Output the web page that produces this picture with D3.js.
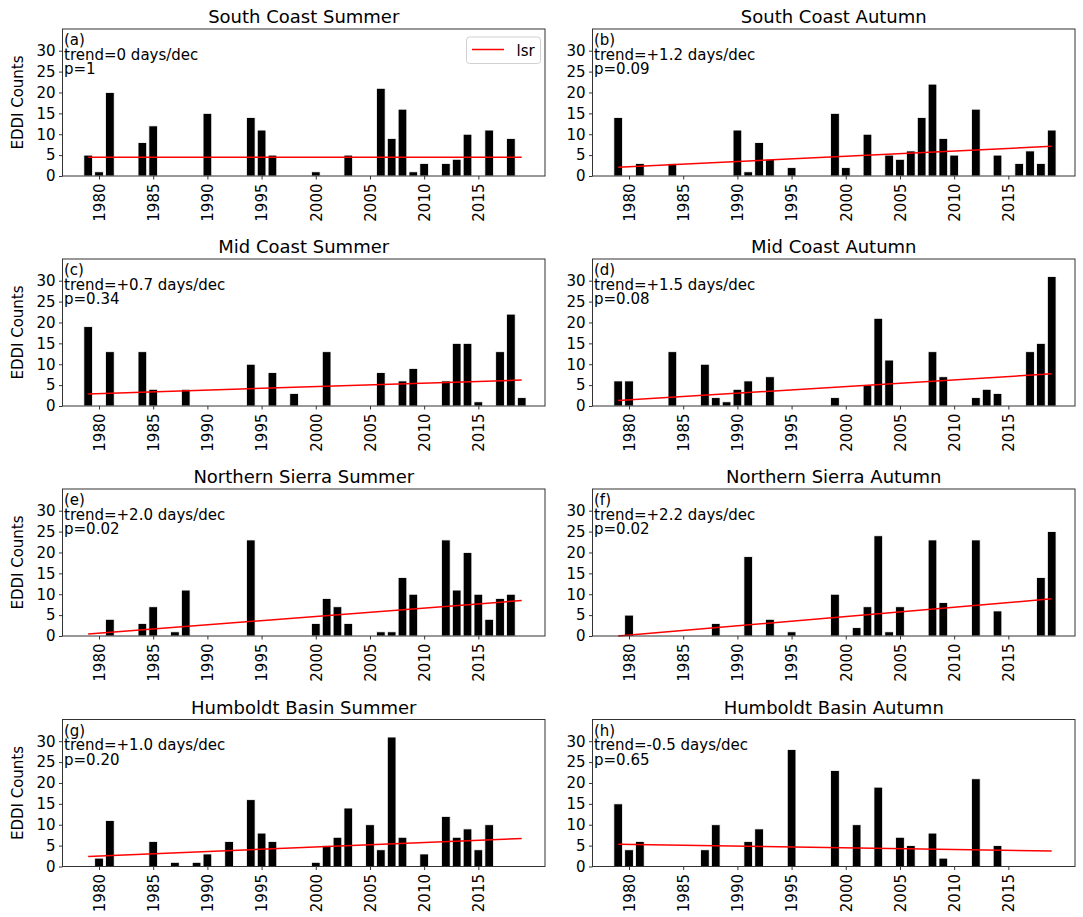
<!DOCTYPE html>
<html>
<head>
<meta charset="utf-8">
<script src="https://cdn.jsdelivr.net/npm/d3@7/dist/d3.min.js"></script>
<style>
  body { margin: 0; background: #fff; }
  text { font-family: "DejaVu Sans", sans-serif; fill: #000; }
</style>
</head>
<body>
<div id="chart"></div>
<script>
// years 1979..2019, one count per year
const years = d3.range(1979, 2020);

const titles = ['South Coast Summer', 'South Coast Autumn', 'Mid Coast Summer', 'Mid Coast Autumn',
  'Northern Sierra Summer', 'Northern Sierra Autumn', 'Humboldt Basin Summer', 'Humboldt Basin Autumn'];
const panelTags = ['(a)', '(b)', '(c)', '(d)', '(e)', '(f)', '(g)', '(h)'];
const trendText = ['trend=0 days/dec', 'trend=+1.2 days/dec', 'trend=+0.7 days/dec', 'trend=+1.5 days/dec',
  'trend=+2.0 days/dec', 'trend=+2.2 days/dec', 'trend=+1.0 days/dec', 'trend=-0.5 days/dec'];
const pText = ['p=1', 'p=0.09', 'p=0.34', 'p=0.08', 'p=0.02', 'p=0.02', 'p=0.20', 'p=0.65'];

const southCoastSummer = [5, 1, 20, 0, 0, 8, 12, 0, 0, 0,
  0, 15, 0, 0, 0, 14, 11, 5, 0, 0,
  0, 1, 0, 0, 5, 0, 0, 21, 9, 16,
  1, 3, 0, 3, 4, 10, 0, 11, 0, 9, 0];
const southCoastAutumn = [14, 0, 3, 0, 0, 3, 0, 0, 0, 0,
  0, 11, 1, 8, 4, 0, 2, 0, 0, 0,
  15, 2, 0, 10, 0, 5, 4, 6, 14, 22,
  9, 5, 0, 16, 0, 5, 0, 3, 6, 3, 11];
const midCoastSummer = [19, 0, 13, 0, 0, 13, 4, 0, 0, 4,
  0, 0, 0, 0, 0, 10, 0, 8, 0, 3,
  0, 0, 13, 0, 0, 0, 0, 8, 0, 6,
  9, 0, 0, 6, 15, 15, 1, 0, 13, 22, 2];
const midCoastAutumn = [6, 6, 0, 0, 0, 13, 0, 0, 10, 2,
  1, 4, 6, 0, 7, 0, 0, 0, 0, 0,
  2, 0, 0, 5, 21, 11, 0, 0, 0, 13,
  7, 0, 0, 2, 4, 3, 0, 0, 13, 15, 31];
const sierraSummer = [0, 0, 4, 0, 0, 3, 7, 0, 1, 11,
  0, 0, 0, 0, 0, 23, 0, 0, 0, 0,
  0, 3, 9, 7, 3, 0, 0, 1, 1, 14,
  10, 0, 0, 23, 11, 20, 10, 4, 9, 10, 0];
const sierraAutumn = [0, 5, 0, 0, 0, 0, 0, 0, 0, 3,
  0, 0, 19, 0, 4, 0, 1, 0, 0, 0,
  10, 0, 2, 7, 24, 1, 7, 0, 0, 23,
  8, 0, 0, 23, 0, 6, 0, 0, 0, 14, 25];
const humboldtSummer = [0, 2, 11, 0, 0, 0, 6, 0, 1, 0,
  1, 3, 0, 6, 0, 16, 8, 6, 0, 0,
  0, 1, 5, 7, 14, 0, 10, 4, 31, 7,
  0, 3, 0, 12, 7, 9, 4, 10, 0, 0, 0];
const humboldtAutumn = [15, 4, 6, 0, 0, 0, 0, 0, 4, 10,
  0, 0, 6, 9, 0, 0, 28, 0, 0, 0,
  23, 0, 10, 0, 19, 0, 7, 5, 0, 8,
  2, 0, 0, 21, 0, 5, 0, 0, 0, 0, 0];

// least-squares line, value at 1979 and at 2019
const lsrStart = [4.5, 2.1, 2.9, 1.3, 0.5, 0.0, 2.4, 5.3];
const lsrEnd = [4.5, 7.1, 6.2, 7.7, 8.5, 8.9, 6.7, 3.7];

const yTicks = [0, 5, 10, 15, 20, 25, 30];
const xTicks = [1980, 1985, 1990, 1995, 2000, 2005, 2010, 2015];

const series = [southCoastSummer, southCoastAutumn, midCoastSummer, midCoastAutumn,
  sierraSummer, sierraAutumn, humboldtSummer, humboldtAutumn];

const width = 1083, height = 917;
const colX = [62.5, 592.5], rowY = [29, 259, 489, 719.5];
const pw = 482.5, ph = 147;

const svg = d3.select('#chart').append('svg')
  .attr('width', width)
  .attr('height', height);

const x = d3.scaleLinear().domain([1976.63, 2021.15]).range([0, pw]);
const y = d3.scaleLinear().domain([0, 35.2]).range([ph, 0]);
const barW = x(1979.8) - x(1979);

series.forEach((vals, i) => {
  const col = i % 2, row = Math.floor(i / 2);
  const g = svg.append('g')
    .attr('transform', `translate(${colX[col]}, ${rowY[row]})`);

  const data = years.map((yr, k) => ({ year: yr, value: vals[k] })).filter(d => d.value > 0);

  g.selectAll('rect.bar')
    .data(data)
    .enter().append('rect')
      .attr('class', 'bar')
      .attr('x', d => x(d.year) - barW / 2)
      .attr('width', barW)
      .attr('y', d => y(d.value))
      .attr('height', d => y(0) - y(d.value))
      .attr('fill', '#000')
      .attr('stroke', '#fff')
      .attr('stroke-width', 0.8);

  g.append('line')
    .attr('x1', x(years[0])).attr('x2', x(years[years.length - 1]))
    .attr('y1', y(lsrStart[i])).attr('y2', y(lsrEnd[i]))
    .attr('stroke', '#f00')
    .attr('stroke-width', 1.5);

  // axes
  const ya = g.append('g').call(d3.axisLeft(y).tickValues(yTicks).tickSize(3.5).tickPadding(3.5));
  ya.select('.domain').remove();
  ya.selectAll('text').style('font-size', '15px').style('font-family', '"DejaVu Sans", sans-serif');
  ya.selectAll('line').attr('stroke', '#333');

  const xa = g.append('g').attr('transform', `translate(0, ${ph})`)
    .call(d3.axisBottom(x).tickValues(xTicks).tickFormat(d3.format('d')).tickSize(3.5));
  xa.select('.domain').remove();
  xa.selectAll('line').attr('stroke', '#333');
  xa.selectAll('text')
    .style('font-size', '15px')
    .style('font-family', '"DejaVu Sans", sans-serif')
    .style('text-anchor', 'end')
    .attr('x', -7.5)
    .attr('y', 0)
    .attr('dy', '0.35em')
    .attr('transform', 'rotate(-90)');

  g.append('rect')
    .attr('width', pw).attr('height', ph)
    .attr('fill', 'none')
    .attr('stroke', '#333')
    .attr('stroke-width', 1);

  g.append('text')
    .attr('x', pw / 2).attr('y', -6)
    .attr('text-anchor', 'middle')
    .style('font-size', '18px')
    .text(titles[i]);

  [panelTags[i], trendText[i], pText[i]].forEach((t, k) => {
    g.append('text')
      .attr('x', 1.5).attr('y', 16 + k * 14.5)
      .style('font-size', '15px')
      .text(t);
  });

  if (col === 0) {
    g.append('text')
      .attr('transform', `translate(${-40}, ${ph / 2}) rotate(-90)`)
      .attr('text-anchor', 'middle')
      .style('font-size', '15px')
      .text('EDDI Counts');
  }

  if (i === 0) {
    const lg = g.append('g').attr('transform', `translate(${pw - 78.5}, 8)`);
    lg.append('rect')
      .attr('width', 74).attr('height', 26.5)
      .attr('rx', 3)
      .attr('fill', '#fff').attr('fill-opacity', 0.8)
      .attr('stroke', '#d0d0d0');
    lg.append('line')
      .attr('x1', 5.5).attr('x2', 37.5).attr('y1', 12.5).attr('y2', 12.5)
      .attr('stroke', '#f00').attr('stroke-width', 1.5);
    lg.append('text')
      .attr('x', 50).attr('y', 18.5)
      .style('font-size', '15px')
      .text('lsr');
  }
});
</script>
</body>
</html>
